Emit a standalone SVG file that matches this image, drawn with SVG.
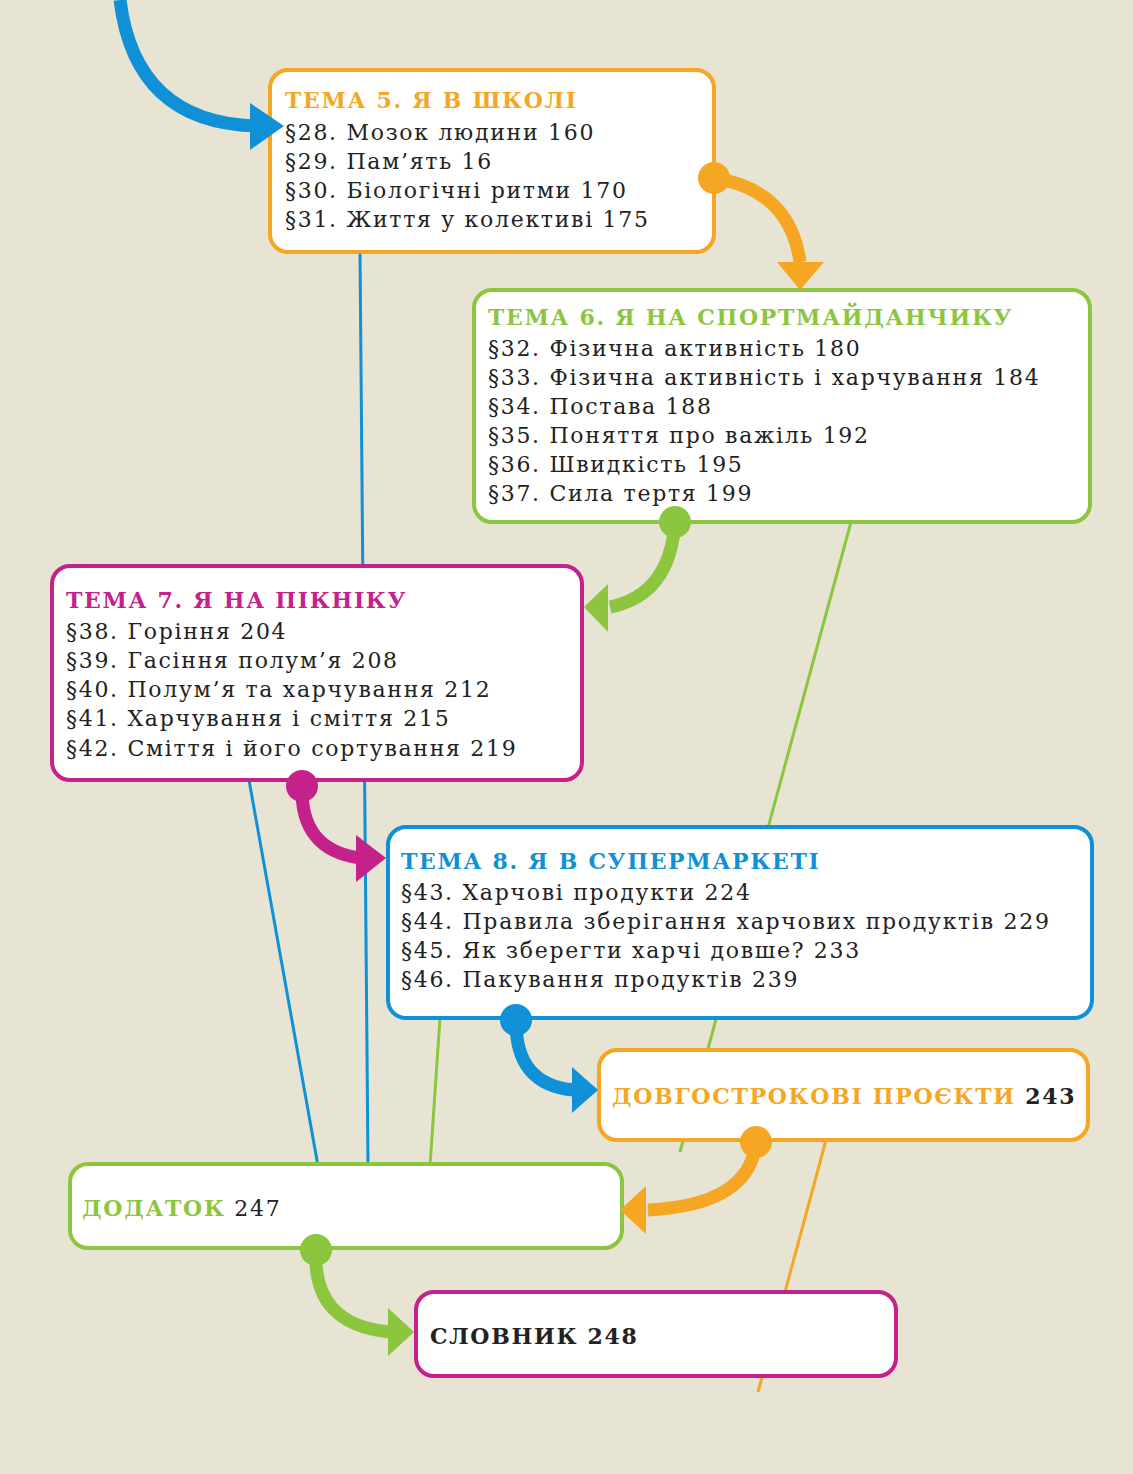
<svg xmlns="http://www.w3.org/2000/svg" width="1133" height="1474" viewBox="0 0 1133 1474">
<style>
.box{fill:#fff;stroke-width:4}
.t{font-family:'DejaVu Serif','Liberation Serif',serif;font-size:22px;letter-spacing:1.7px;fill:#222}
.h{font-weight:bold}
.o{stroke:#f5a623}.g{stroke:#8cc63f}.m{stroke:#c5218a}.b{stroke:#1090d6}
.fo{fill:#f5a623}.fg{fill:#8cc63f}.fm{fill:#c5218a}.fb{fill:#1090d6}
.thin{fill:none;stroke-width:3}
.thick{fill:none;stroke-width:13}
</style>
<rect width="1133" height="1474" fill="#e7e4d4"/>
<g id="lines">
<line class="thin b" x1="360" y1="252" x2="368" y2="1166"/>
<line class="thin b" x1="249" y1="780" x2="318" y2="1166"/>
<line class="thin g" x1="851" y1="522" x2="680" y2="1152"/>
<line class="thin g" x1="440" y1="1018" x2="430" y2="1166"/>
<line class="thin o" x1="826" y1="1140" x2="758" y2="1392"/>
</g>
<g id="t5">
<rect class="box o" x="270" y="70" width="444" height="182" rx="18"/>
<text class="t"><tspan class="h" fill="#f5a623" x="285" y="108">ТЕМА 5. Я В ШКОЛІ</tspan><tspan x="285" y="140">§28. Мозок людини 160</tspan><tspan x="285" y="169">§29. Пам’ять 16</tspan><tspan x="285" y="198">§30. Біологічні ритми 170</tspan><tspan x="285" y="227">§31. Життя у колективі 175</tspan></text>
</g>
<g id="t6">
<rect class="box g" x="474" y="290" width="616" height="232" rx="18"/>
<text class="t"><tspan class="h" fill="#8cc63f" x="488" y="325">ТЕМА 6. Я НА СПОРТМАЙДАНЧИКУ</tspan><tspan x="488" y="356">§32. Фізична активність 180</tspan><tspan x="488" y="385">§33. Фізична активність і харчування 184</tspan><tspan x="488" y="414">§34. Постава 188</tspan><tspan x="488" y="443">§35. Поняття про важіль 192</tspan><tspan x="488" y="472">§36. Швидкість 195</tspan><tspan x="488" y="501">§37. Сила тертя 199</tspan></text>
</g>
<g id="t7">
<rect class="box m" x="52" y="566" width="530" height="214" rx="18"/>
<text class="t"><tspan class="h" fill="#c5218a" x="66" y="608">ТЕМА 7. Я НА ПІКНІКУ</tspan><tspan x="66" y="639">§38. Горіння 204</tspan><tspan x="66" y="668">§39. Гасіння полум’я 208</tspan><tspan x="66" y="697">§40. Полум’я та харчування 212</tspan><tspan x="66" y="726">§41. Харчування і сміття 215</tspan><tspan x="66" y="756">§42. Сміття і його сортування 219</tspan></text>
</g>
<g id="t8">
<rect class="box b" x="388" y="827" width="704" height="191" rx="18"/>
<text class="t"><tspan class="h" fill="#1090d6" x="401" y="869">ТЕМА 8. Я В СУПЕРМАРКЕТІ</tspan><tspan x="401" y="900">§43. Харчові продукти 224</tspan><tspan x="401" y="929">§44. Правила зберігання харчових продуктів 229</tspan><tspan x="401" y="958">§45. Як зберегти харчі довше? 233</tspan><tspan x="401" y="987">§46. Пакування продуктів 239</tspan></text>
</g>
<g id="proj">
<rect class="box o" x="599" y="1050" width="489" height="90" rx="18"/>
<text class="t h" x="612" y="1104"><tspan fill="#f5a623">ДОВГОСТРОКОВІ ПРОЄКТИ</tspan> 243</text>
</g>
<g id="dod">
<rect class="box g" x="70" y="1164" width="552" height="84" rx="18"/>
<text class="t" x="82" y="1216"><tspan class="h" fill="#8cc63f">ДОДАТОК</tspan> 247</text>
</g>
<g id="slov">
<rect class="box m" x="416" y="1292" width="480" height="84" rx="18"/>
<text class="t h" x="430" y="1344">СЛОВНИК 248</text>
</g>
<g id="connectors">
<path class="thick b" d="M120,0 Q135,122 255,126"/>
<path class="fb" d="M250,103 L284,126 L250,150 Z"/>
<path class="thick o" d="M714,178 Q790,190 800,262"/>
<circle class="fo" cx="714" cy="178" r="16"/>
<path class="fo" d="M777,262 L824,262 L800,290 Z"/>
<path class="thick g" d="M675,522 Q670,595 610,607"/>
<circle class="fg" cx="675" cy="522" r="16"/>
<path class="fg" d="M608,584 L584,607 L608,632 Z"/>
<path class="thick m" d="M302,786 Q300,850 360,858"/>
<circle class="fm" cx="302" cy="786" r="16"/>
<path class="fm" d="M356,835 L386,858 L356,882 Z"/>
<path class="thick b" d="M516,1020 Q515,1085 574,1090"/>
<circle class="fb" cx="516" cy="1020" r="16"/>
<path class="fb" d="M572,1067 L598,1090 L572,1113 Z"/>
<path class="thick o" d="M756,1142 Q750,1205 648,1210"/>
<circle class="fo" cx="756" cy="1142" r="16"/>
<path class="fo" d="M646,1186 L620,1210 L646,1234 Z"/>
<path class="thick g" d="M316,1250 Q312,1325 390,1332"/>
<circle class="fg" cx="316" cy="1250" r="16"/>
<path class="fg" d="M388,1308 L414,1332 L388,1356 Z"/>
</g>
</svg>
